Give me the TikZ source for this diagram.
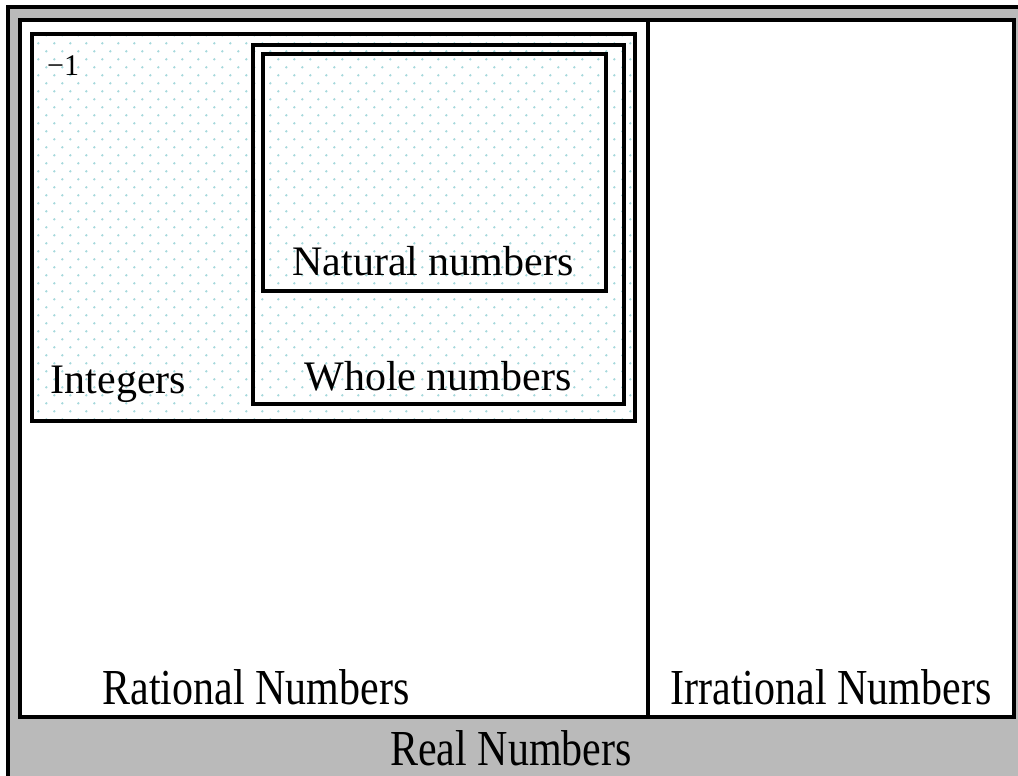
\documentclass[tikz,border=0pt]{standalone}
\usepackage{fontspec}
\usepackage{graphicx}
\setmainfont{Liberation Serif}
\definecolor{realgrey}{HTML}{BABABA}
\definecolor{dotcyan}{HTML}{A6D9DC}
\tikzset{
  frame/.style={draw=black, line width=4pt},
  setbox/.style={draw=black, line width=4pt},
  biglabel/.style={inner sep=0pt, font=\fontsize{42}{50}\selectfont},
  smalllabel/.style={inner sep=0pt, font=\fontsize{30}{36}\selectfont},
  dotmark/.style={fill=dotcyan, draw=none}
}
\begin{document}
\begin{tikzpicture}[x=1pt, y=-1pt]
\useasboundingbox (0,0) rectangle (1018,776);
\clip (0,0) rectangle (1018,776);
% outer grey region (Real Numbers)
\fill[white] (0,0) rectangle (1018,776);
\fill[realgrey] (8,7) rectangle (1040,800);
\draw[frame] (8,7) rectangle (1040,800);
% white inner panel
\fill[white] (20,20) rectangle (1013.5,717);
% dotted background of Integers
\begin{scope}
  \clip (32,34.5) rectangle (634.5,420.5);
  \foreach \i in {0,...,39}{
    \foreach \j in {0,...,25}{
      \fill[dotmark] ({22.3+16*\i},{27.3+16*\j}) circle (1.3);
      \fill[dotmark] ({30.3+16*\i},{35.3+16*\j}) circle (1.3);
    }
  }
\end{scope}
\draw[frame] (20,20) rectangle (1013.5,717);
\coordinate (divtop) at (648,20);
\coordinate (divbot) at (648,717);
\draw[frame] (divtop) -- (divbot);
% nested set boxes
\draw[setbox] (32,34.5) rectangle (634.5,420.5);
\draw[setbox] (253,45) rectangle (623.5,404);
\draw[setbox] (262.5,54) rectangle (606,290.5);
% labels
\node[smalllabel, anchor=base west] (minusone) at (47,76) {−1};
\node[biglabel, anchor=base] (natural) at (433,275) {Natural numbers};
\node[biglabel, anchor=base] (whole) at (438,390) {Whole numbers};
\node[biglabel, anchor=base] (integers) at (118.5,393) {Integers};
\node[biglabel, anchor=base] (rational) at (256,704) {\scalebox{1}[1.2]{Rational Numbers}};
\node[biglabel, anchor=base] (irrational) at (831,704) {\scalebox{1}[1.2]{Irrational Numbers}};
\node[biglabel, anchor=base] (real) at (511,765) {\scalebox{1}[1.2]{Real Numbers}};
\end{tikzpicture}
\end{document}
